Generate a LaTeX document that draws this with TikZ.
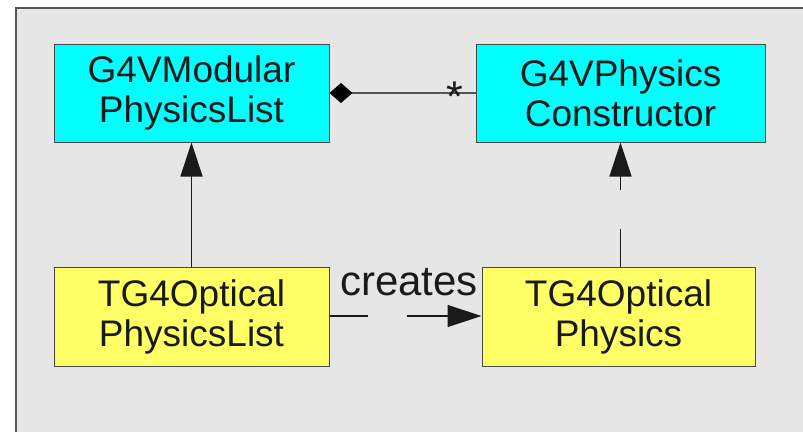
\documentclass[tikz,border=0pt]{standalone}
\usepackage{fontspec}
\setmainfont{Liberation Sans}
\usetikzlibrary{arrows.meta,calc}

\definecolor{frameFill}{HTML}{E6E6E6}
\definecolor{frameEdge}{HTML}{555555}
\definecolor{classCyan}{HTML}{00FFFF}
\definecolor{classYellow}{HTML}{FFFF66}
\definecolor{inkDark}{HTML}{1A1A1A}
\definecolor{assocGray}{HTML}{555555}

\tikzset{
  classbox/.style={draw=inkDark!80, line width=1pt, align=center, text=inkDark,
    font=\fontsize{37}{40}\selectfont, inner sep=0pt},
  baseclass/.style={classbox, fill=classCyan},
  implclass/.style={classbox, fill=classYellow},
  inherit/.style={line width=1.4pt, draw=inkDark,
    -{Triangle[length=34pt,width=22pt]}},
  usesdash/.style={inherit, dash pattern=on 38pt off 39pt on 200pt},
  assoc/.style={line width=1.6pt, draw=assocGray,
    {Diamond[length=23pt,width=20pt,fill=black,color=black]}-},
  lbl/.style={text=inkDark, inner sep=0pt}
}

\begin{document}
\begin{tikzpicture}[x=1pt,y=-1pt]
  \useasboundingbox (0,0) rectangle (803,431);
  % grey canvas with its border
  \filldraw[fill=frameFill, draw=frameEdge, line width=1.2pt] (16,8) rectangle (830,445);

  % classes
  \node[baseclass, minimum width=275pt, minimum height=98pt] (modlist) at (191.5,93) {G4VModular\\PhysicsList};
  \node[baseclass, minimum width=289pt, minimum height=98pt] (ctor) at (620.5,93) {G4VPhysics\\Constructor};
  \node[implclass, minimum width=275pt, minimum height=99pt] (optlist) at (191.5,316.5) {TG4Optical\\PhysicsList};
  \node[implclass, minimum width=273pt, minimum height=99pt] (optphys) at (618.5,316.5) {TG4Optical\\Physics};

  % aggregation
  \draw[assoc] (modlist.east) -- (ctor.west);
  \node[lbl, anchor=base, font=\fontsize{43}{46}\selectfont] (mult) at (455,111) {*};

  % inheritance and realisation
  \draw[inherit] (optlist) -- (modlist);
  \draw[usesdash] (ctor.south |- optphys.north) -- (ctor.south);

  % creates dependency
  \draw[usesdash] (optlist.east |- 0,316) -- (optphys.west |- 0,316);
  \node[lbl, anchor=base, font=\fontsize{42}{45}\selectfont] (createslbl) at (409,295) {creates};
\end{tikzpicture}
\end{document}
